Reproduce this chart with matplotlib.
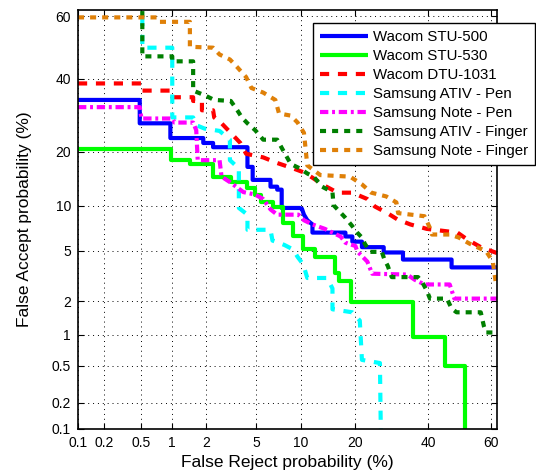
import math
from statistics import NormalDist
import numpy as np
import matplotlib
matplotlib.use("Agg")
import matplotlib.pyplot as plt
from matplotlib.ticker import FixedLocator, FixedFormatter, NullLocator

plt.rcParams['font.family'] = ['Liberation Sans', 'DejaVu Sans']

# ---------------- data (percent) ----------------
labels = ["Wacom STU-500", "Wacom STU-530", "Wacom DTU-1031", "Samsung ATIV - Pen",
          "Samsung Note - Pen", "Samsung ATIV - Finger", "Samsung Note - Finger"]

stu500_frr = [0.1, 0.48, 0.48, 0.96, 0.96, 1.9, 1.9, 2.3, 2.3, 4.3, 4.3, 4.7, 4.7, 6.3, 6.3, 7.0, 7.0, 7.5, 7.5,
              9.8, 10.1, 10.4, 10.9, 11.7, 11.7, 17.8, 17.8, 19.3, 19.3, 21.5, 21.5, 27, 27, 32.4, 32.4, 47.5, 47.5, 62]
stu500_far = [33.6, 33.6, 27, 27, 23.2, 23.2, 22, 22, 21, 21, 16.7, 16.7, 14.2, 14.2, 13, 13, 12.5, 12.5, 9.7,
              9.7, 9.6, 8.8, 8.1, 7.6, 6.7, 6.7, 6.3, 6.3, 5.8, 5.8, 5.3, 5.3, 4.85, 4.85, 4.3, 4.3, 3.75, 3.75]

stu530_frr = [0.1, 0.98, 0.98, 1.45, 1.45, 2.3, 2.3, 3.2, 3.2, 4.3, 4.3, 4.9, 4.9, 5.4, 5.4, 6.6, 6.6, 7.6, 7.6,
              8.9, 8.9, 10.3, 10.3, 12.1, 12.1, 15.6, 15.6, 16.4, 16.4, 19.0, 19.0, 35.3, 35.3, 45.3, 45.3, 51.7, 51.7]
stu530_far = [20.5, 20.5, 18.2, 18.2, 17.3, 17.3, 14.8, 14.8, 13.8, 13.8, 12.8, 12.8, 11.7, 11.7, 10.5, 10.5, 9.8,
              9.8, 7.8, 7.8, 6.3, 6.3, 5.1, 5.1, 4.5, 4.5, 3.4, 3.4, 2.95, 2.95, 1.95, 1.95, 0.95, 0.95, 0.49, 0.49, 0.01]

dtu_frr = [0.1, 0.5, 0.5, 1.0, 1.0, 1.55, 1.55, 1.85, 1.85, 2.3, 2.35, 2.7, 3.2, 3.8, 4.2, 5.6, 7.0, 8.9, 10.4,
           11.7, 13.5, 16.2, 19.3, 22.8, 24.7, 28, 30.8, 34.6, 39.6, 49.4, 52.6, 56.9, 62]
dtu_far = [38.6, 38.6, 36.4, 36.4, 34.4, 34.4, 33.3, 33.3, 30.6, 30.6, 28.6, 27, 24.5, 22, 19.5, 18.7, 17.5, 16.4,
           15.6, 14.6, 13.3, 12, 12, 11, 9.9, 9, 8.2, 7.6, 7.1, 6.7, 6, 5.3, 4.8]

ativpen_frr = [0.51, 0.51, 1.0, 1.0, 1.55, 1.65, 1.95, 2.6, 3.15, 3.15, 3.7, 3.7, 4.3, 4.3, 6.3, 6.5, 7.8, 8.9,
               9.5, 10.3, 10.9, 14.2, 15.2, 15.2, 19.3, 21.0, 21.5, 26.0, 26.5]
ativpen_far = [70, 50, 50, 28.6, 28.6, 26.5, 25.6, 25, 22.8, 18.1, 16.4, 9.7, 8.8, 7.0, 7.0, 5.9, 5.5, 5.1,
               4.5, 3.95, 3.1, 3.1, 2.55, 1.7, 1.6, 1.35, 0.57, 0.53, 0.01]

notepen_frr = [0.1, 0.48, 0.5, 1.0, 1.05, 1.55, 1.65, 1.7, 2.6, 2.7, 3.15, 4.0, 4.9, 5.6, 6.3, 7.0, 9.6, 10.4,
               11.7, 13.8, 15.2, 16.8, 17.8, 20.0, 20.4, 22.8, 24.0, 33.6, 35.9, 38.9, 46.9, 48.4, 62]
notepen_far = [31.5, 31.5, 28.3, 28.3, 27.2, 27.2, 25.2, 18.1, 18.1, 14.8, 13.8, 12.1, 11.7, 11.0, 9.5, 8.8, 8.8,
               8.1, 7.6, 7.1, 6.7, 6.3, 5.7, 5.4, 4.95, 4.15, 3.35, 3.3, 3.0, 2.75, 2.75, 2.1, 2.1]

ativfin_frr = [0.51, 0.51, 1.0, 1.0, 1.55, 1.55, 1.95, 2.35, 3.2, 3.6, 3.9, 4.3, 4.9, 5.6, 7.0, 7.8, 8.6, 9.8,
               10.9, 11.9, 13.3, 15.2, 15.4, 17.8, 19.3, 20.4, 21.5, 22.2, 23.5, 26.5, 27.2, 28.1, 29.2, 36.9,
               38.1, 39.6, 40.6, 46.0, 47.5, 49.1, 56.9, 57.9, 58.6, 62]
ativfin_far = [70, 47.2, 47.2, 45.6, 45.6, 36.4, 35.0, 33.6, 33.3, 30.6, 28.6, 27.0, 25.2, 22.8, 22.8, 19.8,
               17.3, 16.4, 15.4, 14.8, 13.0, 12.1, 10.1, 8.4, 7.4, 6.7, 6.2, 5.6, 4.9, 4.9, 4.3, 3.85, 3.15,
               3.15, 2.9, 2.45, 2.1, 2.1, 1.73, 1.6, 1.6, 1.2, 1.05, 1.05]

notefin_frr = [0.1, 0.71, 0.75, 1.45, 1.45, 2.3, 2.6, 3.15, 3.6, 4.2, 4.6, 5.6, 6.8, 7.2, 8.6, 9.5, 10.4, 10.9,
               13.0, 18.8, 21.5, 23.8, 27.7, 30.5, 31.0, 38.9, 40.6, 41.2, 46.9, 49.8, 53.4, 58.6, 60.7, 61.7]
notefin_far = [59.7, 59.7, 58.3, 58.3, 50.3, 50.0, 47.8, 46.2, 43.7, 40.6, 37.2, 35.8, 33.6, 29.7, 29.1, 27.2,
               24.5, 17.0, 15.1, 14.8, 13.4, 12.0, 11.4, 10.5, 9.0, 8.6, 7.2, 6.5, 6.5, 6.2, 5.6, 4.95, 4.15, 2.75]

tick_vals = [0.1, 0.2, 0.5, 1, 2, 5, 10, 20, 40, 60]
tick_labels = ["0.1", "0.2", "0.5", "1", "2", "5", "10", "20", "40", "60"]

# ---------------- probit scale ----------------
_nd = NormalDist()
_ppf = np.vectorize(lambda q: _nd.inv_cdf(q) if (q > 0 and q < 1) else np.nan, otypes=[float])
_erf = np.vectorize(math.erf, otypes=[float])


def fwd(p):
    p = np.asarray(p, dtype=float)
    return _ppf(np.clip(p / 100.0, 1e-9, 1 - 1e-9))


def inv(z):
    z = np.asarray(z, dtype=float)
    return 100.0 * 0.5 * (1.0 + _erf(z / math.sqrt(2.0)))


fig = plt.figure(figsize=(5.36, 4.75), dpi=100)
ax = fig.add_axes([78 / 536, 46 / 475, 419 / 536, 419 / 475])
ax.set_xscale('function', functions=(fwd, inv))
ax.set_yscale('function', functions=(fwd, inv))

lw = 3.0
series = [
    (stu500_frr, stu500_far, '#0000FF', '-'),
    (stu530_frr, stu530_far, '#00FF00', '-'),
    (dtu_frr, dtu_far, '#FF0000', (0, (2.2, 2.1))),
    (ativpen_frr, ativpen_far, '#00FFFF', (0, (2.2, 2.1))),
    (notepen_frr, notepen_far, '#FF00FF', (0, (2.0, 0.9, 0.7, 0.9))),
    (ativfin_frr, ativfin_far, '#007F00', (0, (1.45, 1.45))),
    (notefin_frr, notefin_far, '#DF8008', (0, (1.45, 1.45))),
]
for (xs, ys, c, ls), lab in zip(series, labels):
    ax.plot(xs, ys, color=c, linestyle=ls, lw=lw, label=lab, solid_capstyle='butt', dash_capstyle='butt')

ax.set_xlim(0.1, 62)
ax.set_ylim(0.1, 62)
for axis in (ax.xaxis, ax.yaxis):
    axis.set_major_locator(FixedLocator(tick_vals))
    axis.set_major_formatter(FixedFormatter(tick_labels))
    axis.set_minor_locator(NullLocator())

ax.tick_params(direction='in', length=4, width=0.8, top=True, right=True, labelsize=10, pad=5, colors='black')
ax.grid(True, color='black', linestyle=(0, (1, 4)), linewidth=0.7)
for sp in ax.spines.values():
    sp.set_linewidth(1.2)

ax.set_xlabel("False Reject probability (%)", fontsize=12.5, labelpad=4)
ax.set_ylabel("False Accept probability (%)", fontsize=12.5, labelpad=14)

leg = ax.legend(loc='upper right', bbox_to_anchor=(535 / 536, 452 / 475), bbox_transform=fig.transFigure,
                fontsize=10.8, frameon=True, fancybox=False, shadow=False, framealpha=1,
                edgecolor='black', borderaxespad=0, borderpad=0.45, handlelength=3.2, handletextpad=0.35,
                labelspacing=0.34)
leg.get_frame().set_linewidth(1.0)

fig.savefig("out.png", dpi=100)
